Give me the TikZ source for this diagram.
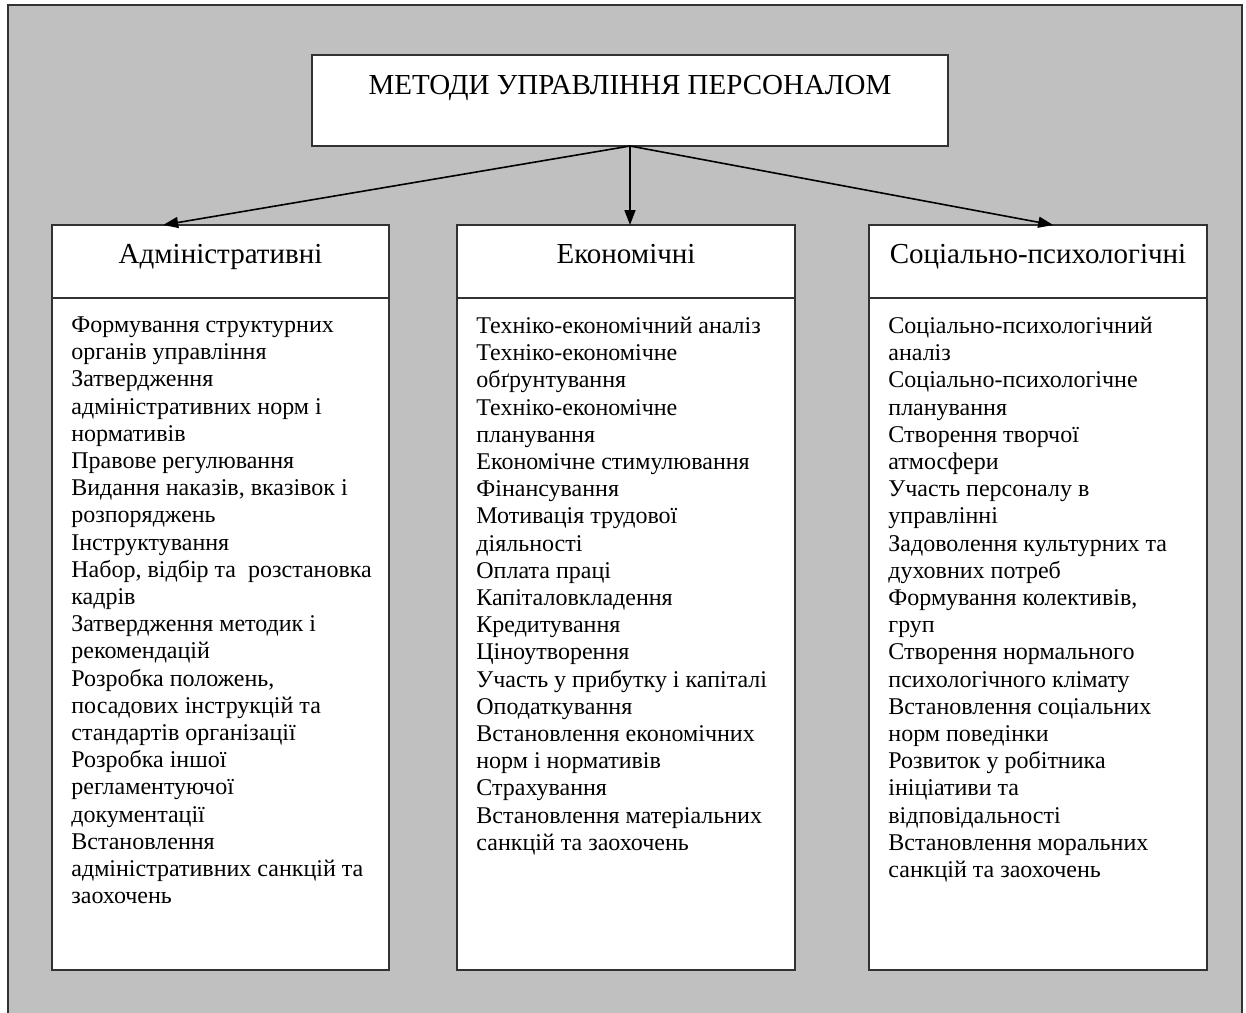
\documentclass[tikz,border=0pt]{standalone}
\usepackage{fontspec}
\setmainfont{Liberation Serif}
\usetikzlibrary{arrows.meta,calc}
\definecolor{panelgray}{RGB}{192,192,192}
\definecolor{edgegray}{RGB}{50,50,50}
\begin{document}
\begin{tikzpicture}[x=0.5pt,y=-0.5pt,
  box/.style={draw=edgegray,line width=1pt,fill=white,inner sep=0pt,outer sep=0pt},
  listtext/.style={anchor=north west,align=left,inner sep=0pt,
    font=\fontsize{12}{13.6}\selectfont},
  headtext/.style={anchor=base,inner sep=0pt,font=\fontsize{14.5}{16.5}\selectfont},
  link/.style={line width=0.8pt,-{Triangle[length=7.5pt,width=5.5pt]}}]

  \useasboundingbox (0,0) rectangle (1246,1012);
  \clip (0,0) rectangle (1246,1012);

  % grey panel behind the whole scheme
  \draw[edgegray,line width=1pt,fill=panelgray] (8,5) rectangle (1242,1040);

  % title block
  \node[box,minimum width=318pt,minimum height=45.5pt] (title) at (630,100.5) {};
  \node[headtext] (titletext) at (630,94) {МЕТОДИ УПРАВЛІННЯ ПЕРСОНАЛОМ};

  % column headers
  \node[box,minimum width=168.5pt,minimum height=36.5pt] (admh) at (220.5,261.5) {};
  \node[box,minimum width=169pt,minimum height=36.5pt] (ecoh) at (626,261.5) {};
  \node[box,minimum width=169pt,minimum height=36.5pt] (soch) at (1038,261.5) {};

  \node[headtext] (admt) at (220.5,263) {Адміністративні};
  \node[headtext] (ecot) at (626,263) {Економічні};
  \node[headtext] (soct) at (1038,263) {Соціально-психологічні};

  % column bodies
  \node[box,minimum width=168.5pt,minimum height=336pt] (admb) at (220.5,634) {};
  \node[box,minimum width=169pt,minimum height=336pt] (ecob) at (626,634) {};
  \node[box,minimum width=169pt,minimum height=336pt] (socb) at (1038,634) {};

  \node[listtext] (admlist) at (71,313) {\strut Формування структурних\\
органів управління\\
Затвердження\\
адміністративних норм і\\
нормативів\\
Правове регулювання\\
Видання наказів, вказівок і\\
розпоряджень\\
Інструктування\\
Набор, відбір та\ \ розстановка\\
кадрів\\
Затвердження методик і\\
рекомендацій\\
Розробка положень,\\
посадових інструкцій та\\
стандартів організації\\
Розробка іншої\\
регламентуючої\\
документації\\
Встановлення\\
адміністративних санкцій та\\
заохочень};

  \node[listtext] (ecolist) at (476,314) {\strut Техніко-економічний аналіз\\
Техніко-економічне\\
обґрунтування\\
Техніко-економічне\\
планування\\
Економічне стимулювання\\
Фінансування\\
Мотивація трудової\\
діяльності\\
Оплата праці\\
Капіталовкладення\\
Кредитування\\
Ціноутворення\\
Участь у прибутку і капіталі\\
Оподаткування\\
Встановлення економічних\\
норм і нормативів\\
Страхування\\
Встановлення матеріальних\\
санкцій та заохочень};

  \node[listtext] (soclist) at (888,314) {\strut Соціально-психологічний\\
аналіз\\
Соціально-психологічне\\
планування\\
Створення творчої\\
атмосфери\\
Участь персоналу в\\
управлінні\\
Задоволення культурних та\\
духовних потреб\\
Формування колективів,\\
груп\\
Створення нормального\\
психологічного клімату\\
Встановлення соціальних\\
норм поведінки\\
Розвиток у робітника\\
ініціативи та\\
відповідальності\\
Встановлення моральних\\
санкцій та заохочень};

  % connectors from the title to the three groups
  \draw[link] (title.south) -- ($(admh.north west)!0.33!(admh.north east)$);
  \draw[link] (title.south) -- (title.south |- ecoh.north);
  \draw[link] (title.south) -- ($(soch.north west)!0.545!(soch.north east)$);
\end{tikzpicture}
\end{document}
